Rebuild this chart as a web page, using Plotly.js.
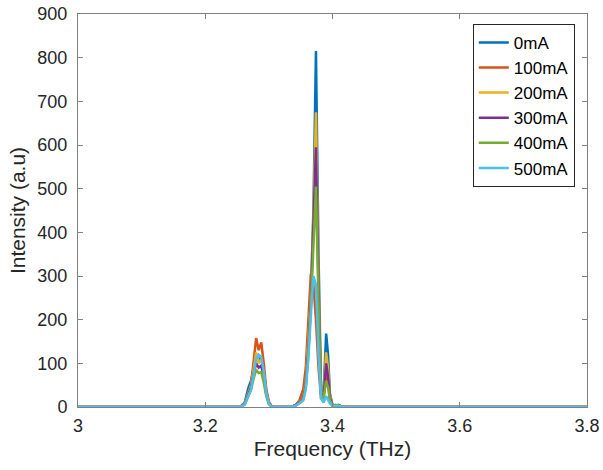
<!DOCTYPE html>
<html><head><meta charset="utf-8">
<script src="https://cdn.plot.ly/plotly-3.0.1.min.js"></script>
<style>html,body{margin:0;padding:0;background:#fff}#plot{width:603px;height:470px}</style>
</head><body><div id="plot"></div>
<script>
var freq = [3.00, 3.255, 3.262, 3.268, 3.272, 3.276, 3.280, 3.284, 3.288, 3.292, 3.296, 3.300, 3.305, 3.335, 3.342, 3.348, 3.354, 3.358, 3.362, 3.366, 3.370, 3.374, 3.378, 3.382, 3.386, 3.390, 3.393, 3.396, 3.400, 3.405, 3.410, 3.415, 3.8];
var seriesNames = ["0mA", "100mA", "200mA", "300mA", "400mA", "500mA"];
var i0   = [0, 0, 10, 45, 60, 95, 120, 105, 115, 80, 35, 10, 0, 0, 5, 12, 25, 60, 150, 260, 450, 815, 350, 40, 30, 168, 120, 30, 5, 3, 5, 0, 0];
var i100 = [0, 0, 8, 30, 50, 110, 158, 130, 148, 100, 40, 12, 0, 0, 4, 15, 40, 90, 200, 305, 280, 200, 90, 20, 20, 85, 60, 15, 4, 3, 4, 0, 0];
var i200 = [0, 0, 8, 35, 50, 85, 125, 100, 110, 75, 30, 8, 0, 0, 4, 10, 22, 55, 140, 250, 430, 675, 300, 35, 25, 125, 90, 25, 4, 3, 4, 0, 0];
var i300 = [0, 0, 7, 30, 45, 75, 100, 90, 95, 65, 28, 8, 0, 0, 4, 10, 20, 50, 130, 240, 400, 595, 270, 30, 22, 100, 70, 20, 4, 3, 4, 0, 0];
var i400 = [0, 0, 6, 25, 40, 65, 85, 78, 80, 55, 25, 7, 0, 0, 3, 9, 18, 45, 120, 230, 380, 505, 240, 28, 20, 60, 45, 15, 3, 5, 3, 0, 0];
var i500 = [0, 0, 5, 25, 40, 75, 110, 120, 115, 80, 32, 8, 0, 0, 3, 8, 15, 40, 110, 210, 300, 280, 120, 20, 10, 25, 18, 8, 3, 2, 3, 0, 0];
var seriesValues = [i0, i100, i200, i300, i400, i500];
var colors = ["#0072BD", "#D95319", "#EDB120", "#7E2F8E", "#77AC30", "#4DBEEE"];
var xTicks = [3, 3.2, 3.4, 3.6, 3.8];
var xTickText = ["3", "3.2", "3.4", "3.6", "3.8"];
var yTicks = [0, 100, 200, 300, 400, 500, 600, 700, 800, 900];

var traces = seriesNames.map(function(n, k){
  return {x: freq, y: seriesValues[k], name: n, type: "scatter", mode: "lines",
          line: {color: colors[k], width: 2.5}};
});
var axisCommon = {showline: true, linecolor: "#808080", linewidth: 1, mirror: "ticks",
  ticks: "inside", ticklen: 5, tickcolor: "#808080", showgrid: false, zeroline: false,
  tickfont: {family: "Liberation Sans, Arial, sans-serif", size: 18, color: "#262626"}};
var layout = {
  width: 603, height: 470,
  margin: {l: 78, r: 16, t: 14, b: 63},
  paper_bgcolor: "#fff", plot_bgcolor: "#fff",
  showlegend: true,
  font: {family: "Liberation Sans, Arial, sans-serif", color: "#262626"},
  xaxis: Object.assign({}, axisCommon, {range: [3, 3.8], tickvals: xTicks, ticktext: xTickText,
    ticklabelstandoff: 2,
    title: {text: "Frequency (THz)", font: {size: 21, color: "#262626"}, standoff: 6}}),
  yaxis: Object.assign({}, axisCommon, {range: [0, 900], tickvals: yTicks,
    ticklabelstandoff: 6,
    title: {text: "Intensity (a.u)", font: {size: 21, color: "#262626"}, standoff: 6}}),
  legend: {x: 0.976, xanchor: "right", y: 0.975, yanchor: "top",
    bordercolor: "#262626", borderwidth: 1, bgcolor: "#fff",
    font: {size: 17, color: "#000"}, tracegroupgap: 0, itemwidth: 30}
};
Plotly.newPlot("plot", traces, layout, {displayModeBar: false, staticPlot: true});
</script></body></html>
